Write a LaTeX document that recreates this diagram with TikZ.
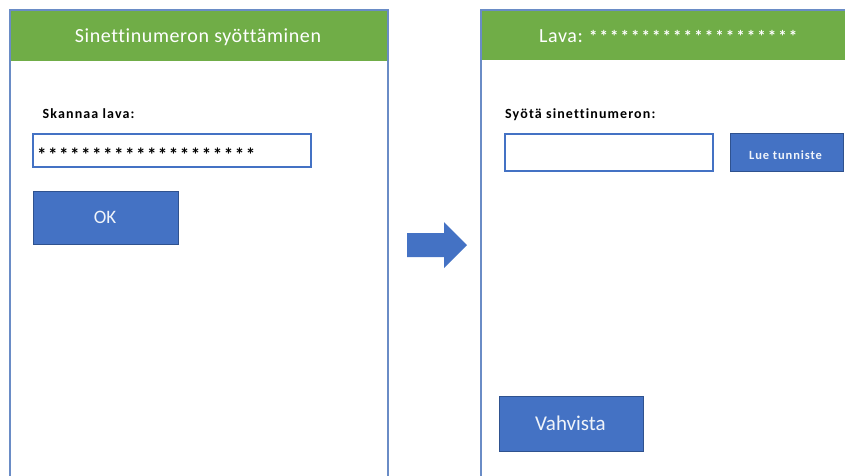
\documentclass[tikz,border=0pt]{standalone}
\usepackage{fontspec}
\setmainfont[Ligatures=NoCommon]{Carlito}
\definecolor{frameblue}{HTML}{6A8CC6}
\definecolor{barGreen}{HTML}{70AD47}
\definecolor{btnBlue}{HTML}{4472C4}
\definecolor{btnEdge}{HTML}{2F528F}
\tikzset{
  framepen/.style={draw=frameblue, line width=1.8pt},
  titletext/.style={text=white, inner sep=0pt, anchor=base,
    font=\fontsize{20}{22}\selectfont\addfontfeature{LetterSpace=3}},
  fieldlabel/.style={anchor=base west, inner sep=0pt,
    font=\bfseries\fontsize{14}{16}\selectfont\addfontfeature{LetterSpace=8}},
  entry/.style={draw=btnBlue, line width=1.2pt, fill=white},
  button/.style={fill=btnBlue, draw=btnEdge, line width=0.6pt},
  btntext/.style={text=white!92!btnBlue, inner sep=0pt},
}
\begin{document}
\begin{tikzpicture}[x=1pt, y=-1pt]
\useasboundingbox (0,0) rectangle (845,475);

% ---- first screen: pallet scan ----
\fill[barGreen] (10,10) rectangle (388,61);
\draw[framepen] (10,480) -- (10,10) -- (388,10) -- (388,480);
\node[titletext] (t1) at (198,42) {Sinettinumeron syöttäminen};
\node[fieldlabel] (l1) at (42.5,118) {Skannaa lava:};
\draw[entry] (33,134) rectangle (311,167);
\node[anchor=base west, inner sep=0pt,
      font=\bfseries\fontsize{19}{20}\selectfont\addfontfeature{LetterSpace=8}]
  (f1) at (37,161.5) {********************};
\draw[button] (33,191) rectangle (178,244);
\node[btntext, font=\fontsize{19}{20}\selectfont] (ok) at (105,217.5) {OK};

% ---- transition arrow ----
\fill[btnBlue] (407,233) -- (444,233) -- (444,222) -- (467,245) -- (444,268)
  -- (444,257) -- (407,257) -- cycle;

% ---- second screen: seal number entry ----
\fill[barGreen] (481,10) rectangle (850,60);
\draw[framepen] (481,480) -- (481,10) -- (850,10);
\node[titletext, anchor=base west] (t2) at (539,42) {Lava:};
\node[anchor=base west, inner sep=0pt, text=white,
      font=\bfseries\fontsize{17}{18}\selectfont\addfontfeature{LetterSpace=12}]
  (t2s) at (589,42) {********************};
\node[fieldlabel] (l2) at (505,118) {Syötä sinettinumeron:};
\draw[entry] (505,134) rectangle (713,171);
\draw[button] (730,133) rectangle (843,171);
\node[btntext, font=\bfseries\fontsize{12.5}{13}\selectfont\addfontfeature{LetterSpace=7}]
  (read) at (785.5,155.5) {Lue tunniste};
\draw[button] (499,396) rectangle (643,451);
\node[btntext, font=\fontsize{21}{22}\selectfont] (ok2) at (570.5,423) {Vahvista};
\end{tikzpicture}
\end{document}
